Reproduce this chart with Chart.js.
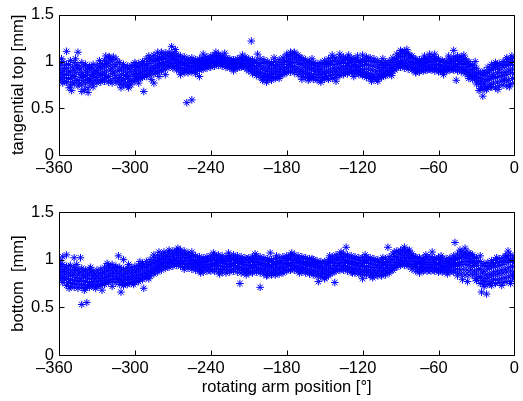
<!DOCTYPE html>
<html>
<head>
<meta charset="utf-8">
<script src="https://cdn.jsdelivr.net/npm/chart.js@4.4.1/dist/chart.umd.min.js"></script>
<style>
  html, body { margin: 0; padding: 0; background: #ffffff; }
  .box { position: absolute; left: 0; width: 523px; }
</style>
</head>
<body>
<div class="box" style="top:0;height:190px"><canvas id="c1" width="523" height="190"></canvas></div>
<div class="box" style="top:190px;height:211px"><canvas id="c2" width="523" height="211"></canvas></div>
<script>
// ---- angle positions (degrees) ----
const angles = [
 -360,-357,-354,-351,-348,-345,-342,-339,-336,-333,
 -330,-327,-324,-321,-318,-315,-312,-309,-306,-303,
 -300,-297,-294,-291,-288,-285,-282,-279,-276,-273,
 -270,-267,-264,-261,-258,-255,-252,-249,-246,-243,
 -240,-237,-234,-231,-228,-225,-222,-219,-216,-213,
 -210,-207,-204,-201,-198,-195,-192,-189,-186,-183,
 -180,-177,-174,-171,-168,-165,-162,-159,-156,-153,
 -150,-147,-144,-141,-138,-135,-132,-129,-126,-123,
 -120,-117,-114,-111,-108,-105,-102,-99,-96,-93,
 -90,-87,-84,-81,-78,-75,-72,-69,-66,-63,
 -60,-57,-54,-51,-48,-45,-42,-39,-36,-33,
 -30,-27,-24,-21,-18,-15,-12,-9,-6,-3,
 0];
const anglesB = [
 -358.5,-355.5,-352.5,-349.5,-346.5,-343.5,-340.5,-337.5,-334.5,-331.5,
 -328.5,-325.5,-322.5,-319.5,-316.5,-313.5,-310.5,-307.5,-304.5,-301.5,
 -298.5,-295.5,-292.5,-289.5,-286.5,-283.5,-280.5,-277.5,-274.5,-271.5,
 -268.5,-265.5,-262.5,-259.5,-256.5,-253.5,-250.5,-247.5,-244.5,-241.5,
 -238.5,-235.5,-232.5,-229.5,-226.5,-223.5,-220.5,-217.5,-214.5,-211.5,
 -208.5,-205.5,-202.5,-199.5,-196.5,-193.5,-190.5,-187.5,-184.5,-181.5,
 -178.5,-175.5,-172.5,-169.5,-166.5,-163.5,-160.5,-157.5,-154.5,-151.5,
 -148.5,-145.5,-142.5,-139.5,-136.5,-133.5,-130.5,-127.5,-124.5,-121.5,
 -118.5,-115.5,-112.5,-109.5,-106.5,-103.5,-100.5,-97.5,-94.5,-91.5,
 -88.5,-85.5,-82.5,-79.5,-76.5,-73.5,-70.5,-67.5,-64.5,-61.5,
 -58.5,-55.5,-52.5,-49.5,-46.5,-43.5,-40.5,-37.5,-34.5,-31.5,
 -28.5,-25.5,-22.5,-19.5,-16.5,-13.5,-10.5,-7.5,-4.5,-1.5];

// ---- tangential top [mm] ----
const topHi = [
 0.98,1.00,0.97,1.01,0.99,0.96,0.99,0.97,0.95,0.97,
 0.96,0.98,1.01,1.04,1.02,1.03,0.99,0.97,0.95,0.96,
 0.96,0.98,1.00,1.03,1.04,1.07,1.05,1.08,1.09,1.10,
 1.09,1.08,1.06,1.05,1.03,1.04,1.02,1.03,1.04,1.05,
 1.06,1.07,1.08,1.06,1.04,1.03,1.02,1.03,1.04,1.05,
 1.03,1.02,1.01,1.03,1.02,1.00,0.99,1.00,1.02,1.04,
 1.06,1.08,1.09,1.07,1.04,1.02,1.00,0.99,0.98,0.99,
 1.01,1.03,1.04,1.04,1.05,1.05,1.04,1.04,1.03,1.01,
 1.02,1.04,1.04,1.03,1.01,0.99,0.99,1.01,1.04,1.08,
 1.10,1.11,1.09,1.06,1.03,1.02,1.03,1.04,1.05,1.05,
 1.03,1.01,1.01,1.03,1.05,1.06,1.05,1.03,1.00,0.96,
 0.93,0.88,0.90,0.94,0.97,0.99,0.98,1.00,1.02,1.03,
 1.04];
const topMidHi = [
 0.92,0.90,0.93,0.89,0.91,0.93,0.88,0.90,0.92,0.89,
 0.90,0.92,0.94,0.96,0.93,0.95,0.91,0.90,0.88,0.89,
 0.90,0.92,0.94,0.96,0.98,1.00,1.01,1.02,1.03,1.05,
 1.04,1.02,1.00,0.99,0.98,0.99,0.98,0.99,1.00,1.01,
 1.02,1.03,1.04,1.03,1.00,0.99,0.98,0.99,1.00,1.01,
 0.98,0.96,0.95,0.96,0.94,0.93,0.92,0.93,0.95,0.97,
 1.00,1.02,1.03,1.01,0.98,0.96,0.94,0.93,0.92,0.92,
 0.94,0.96,0.97,0.97,0.98,0.99,0.98,0.99,0.97,0.95,
 0.96,0.97,0.96,0.95,0.94,0.93,0.94,0.96,0.99,1.03,
 1.05,1.05,1.03,1.00,0.98,0.97,0.98,0.99,1.00,1.00,
 0.97,0.96,0.96,0.98,1.00,1.01,1.00,0.98,0.95,0.91,
 0.86,0.82,0.85,0.88,0.91,0.93,0.92,0.94,0.96,0.97,
 0.96];
const topMidLo = [
 0.85,0.83,0.86,0.82,0.84,0.80,0.83,0.85,0.82,0.84,
 0.83,0.85,0.86,0.84,0.87,0.85,0.83,0.81,0.82,0.80,
 0.84,0.86,0.88,0.90,0.91,0.93,0.94,0.96,0.97,0.99,
 0.98,0.96,0.94,0.93,0.93,0.94,0.93,0.94,0.96,0.97,
 0.98,0.99,1.00,0.99,0.97,0.96,0.95,0.96,0.97,0.97,
 0.94,0.91,0.89,0.88,0.87,0.86,0.86,0.87,0.89,0.91,
 0.93,0.95,0.95,0.93,0.90,0.89,0.87,0.86,0.86,0.86,
 0.87,0.88,0.89,0.89,0.91,0.92,0.92,0.93,0.91,0.90,
 0.89,0.88,0.87,0.86,0.86,0.87,0.88,0.90,0.93,0.97,
 0.98,0.98,0.96,0.94,0.92,0.92,0.93,0.94,0.94,0.94,
 0.92,0.91,0.92,0.93,0.94,0.95,0.94,0.91,0.88,0.85,
 0.80,0.76,0.77,0.80,0.82,0.83,0.84,0.85,0.86,0.88,
 0.87];
const topLo = [
 0.79,0.77,0.78,0.75,0.76,0.74,0.75,0.77,0.78,0.76,
 0.77,0.78,0.79,0.78,0.77,0.78,0.76,0.75,0.74,0.75,
 0.79,0.81,0.83,0.84,0.86,0.87,0.88,0.90,0.92,0.94,
 0.93,0.91,0.89,0.88,0.88,0.89,0.90,0.91,0.92,0.93,
 0.94,0.95,0.96,0.95,0.94,0.93,0.92,0.93,0.94,0.94,
 0.90,0.87,0.85,0.83,0.81,0.80,0.80,0.82,0.84,0.86,
 0.88,0.89,0.88,0.86,0.84,0.83,0.82,0.81,0.80,0.80,
 0.81,0.81,0.82,0.83,0.85,0.86,0.87,0.88,0.87,0.86,
 0.85,0.83,0.82,0.81,0.81,0.83,0.85,0.87,0.90,0.93,
 0.94,0.93,0.92,0.91,0.89,0.89,0.90,0.91,0.91,0.90,
 0.89,0.89,0.90,0.91,0.91,0.90,0.89,0.87,0.84,0.81,
 0.76,0.71,0.70,0.72,0.73,0.72,0.74,0.75,0.74,0.76,
 0.77];
const topB1 = [
 0.96,0.93,0.97,0.94,0.96,0.92,0.95,0.93,0.94,0.91,
 0.94,0.96,0.98,1.00,0.97,0.99,0.94,0.93,0.92,0.94,
 0.94,0.96,0.97,1.00,1.02,1.03,1.04,1.05,1.07,1.07,
 1.06,1.05,1.03,1.02,1.01,1.01,1.00,1.01,1.02,1.03,
 1.05,1.06,1.06,1.04,1.02,1.01,1.01,1.02,1.03,1.02,
 1.00,0.99,0.98,0.99,0.98,0.96,0.96,0.97,0.99,1.01,
 1.04,1.06,1.05,1.04,1.01,0.99,0.97,0.96,0.95,0.97,
 0.98,1.00,1.01,1.00,1.02,1.02,1.01,1.02,1.00,0.99,
 1.00,1.01,1.00,0.99,0.97,0.96,0.97,0.99,1.02,1.06,
 1.08,1.08,1.06,1.03,1.00,1.00,1.01,1.02,1.03,1.02,
 1.00,0.99,0.99,1.01,1.03,1.04,1.02,1.00,0.97,0.93,
 0.89,0.86,0.88,0.91,0.94,0.96,0.96,0.97,0.99,1.00];
const topB2 = [
 0.88,0.86,0.89,0.85,0.88,0.86,0.84,0.88,0.86,0.87,
 0.87,0.88,0.90,0.91,0.89,0.90,0.86,0.85,0.84,0.86,
 0.87,0.89,0.91,0.93,0.94,0.96,0.98,0.99,1.00,1.02,
 1.01,0.99,0.97,0.96,0.95,0.96,0.96,0.97,0.98,0.99,
 1.00,1.01,1.02,1.01,0.98,0.97,0.97,0.98,0.98,0.98,
 0.96,0.93,0.92,0.92,0.90,0.89,0.89,0.90,0.92,0.94,
 0.97,0.99,0.99,0.97,0.94,0.92,0.91,0.90,0.89,0.89,
 0.90,0.92,0.93,0.93,0.95,0.95,0.95,0.96,0.94,0.92,
 0.92,0.92,0.91,0.90,0.90,0.90,0.91,0.93,0.96,1.00,
 1.01,1.01,0.99,0.97,0.95,0.95,0.96,0.96,0.97,0.97,
 0.94,0.93,0.94,0.95,0.97,0.98,0.97,0.94,0.91,0.88,
 0.83,0.79,0.81,0.84,0.86,0.88,0.88,0.89,0.91,0.92];
const topB3 = [
 0.81,0.79,0.82,0.78,0.80,0.77,0.80,0.81,0.79,0.80,
 0.80,0.81,0.83,0.80,0.82,0.80,0.79,0.77,0.78,0.79,
 0.82,0.83,0.85,0.87,0.89,0.90,0.91,0.93,0.95,0.96,
 0.95,0.93,0.91,0.91,0.90,0.91,0.92,0.92,0.94,0.95,
 0.96,0.97,0.98,0.97,0.95,0.94,0.94,0.94,0.95,0.92,
 0.92,0.89,0.87,0.85,0.84,0.83,0.83,0.84,0.86,0.88,
 0.90,0.92,0.91,0.89,0.87,0.86,0.84,0.83,0.83,0.83,
 0.84,0.85,0.86,0.86,0.88,0.89,0.89,0.90,0.89,0.88,
 0.86,0.85,0.84,0.83,0.84,0.85,0.86,0.88,0.91,0.95,
 0.96,0.95,0.94,0.92,0.90,0.91,0.91,0.92,0.92,0.92,
 0.90,0.90,0.91,0.92,0.92,0.92,0.91,0.89,0.86,0.83,
 0.78,0.73,0.73,0.76,0.77,0.78,0.79,0.80,0.80,0.82];
const topEdgeX = [-358,-352,-347,-340,-333,-328,-323,-311,-305,-300,-297,-289,-287,-276,-268,-264,-252,-246,-236,-229,-222,-215,-199,-190,-186,-180,-168,-160,-153,-144,-138,-127,-120,-108,-104,-97,-85,-78,-71,-63,-56,-52,-40,-36,-31,-28,-22,-16,-13,-6,-4];
const topEdgeY = [1.03,0.72,1.03,0.70,0.73,1.01,1.06,0.72,0.72,0.99,0.77,1.06,0.81,0.86,1.13,0.86,0.87,1.08,1.10,1.09,0.90,1.07,0.80,1.04,0.82,1.08,0.81,1.03,0.78,1.07,1.08,0.84,1.07,0.79,1.03,0.85,1.13,0.88,1.06,1.08,0.86,1.06,1.07,0.82,1.00,0.69,0.70,0.96,0.70,1.04,0.73];
const topOutX = [-354,-345,-350,-342,-337,-337,-320,-317,-293,-285,-282,-279,-281,-271,-259,-255,-249,-208,-203,-196,-177,-174,-163,-141,-131,-124,-117,-113,-90,-67,-48,-46,-25,-19,-8,-2];
const topOutY = [1.11,1.10,0.69,0.68,0.67,0.72,1.05,1.05,0.68,0.77,1.10,1.10,0.84,1.16,0.56,0.59,0.84,1.22,1.08,0.78,1.10,1.10,0.80,0.79,1.07,1.06,1.05,0.79,1.12,1.08,1.12,0.80,0.63,0.73,0.81,1.06];

// ---- bottom [mm] ----
const botHi = [
 0.96,0.95,0.93,0.94,0.92,0.90,0.91,0.89,0.90,0.88,
 0.89,0.90,0.92,0.94,0.95,0.93,0.92,0.90,0.91,0.92,
 0.93,0.94,0.96,0.98,1.00,1.02,1.04,1.05,1.06,1.08,
 1.09,1.10,1.10,1.09,1.07,1.05,1.04,1.03,1.02,1.03,
 1.04,1.05,1.05,1.04,1.03,1.04,1.05,1.04,1.03,1.02,
 1.02,1.03,1.04,1.03,1.02,1.01,1.00,1.01,1.02,1.03,
 1.04,1.05,1.05,1.04,1.03,1.02,1.01,1.00,0.99,0.98,
 0.98,1.00,1.03,1.05,1.06,1.06,1.05,1.04,1.03,1.02,
 1.02,1.03,1.02,1.01,1.00,1.00,1.01,1.03,1.06,1.09,
 1.10,1.11,1.09,1.06,1.03,1.02,1.02,1.03,1.03,1.02,
 1.02,1.01,1.01,1.02,1.04,1.06,1.08,1.08,1.07,1.05,
 1.02,0.98,0.96,0.97,0.99,1.00,1.01,1.02,1.04,1.05,
 1.04];
const botMidHi = [
 0.90,0.88,0.87,0.86,0.85,0.84,0.85,0.83,0.84,0.83,
 0.83,0.84,0.86,0.88,0.89,0.88,0.86,0.84,0.85,0.86,
 0.87,0.88,0.90,0.92,0.94,0.96,0.98,1.00,1.01,1.03,
 1.04,1.05,1.05,1.04,1.02,1.00,0.99,0.98,0.97,0.98,
 0.99,1.00,1.00,0.99,0.98,0.99,1.00,0.99,0.98,0.97,
 0.97,0.98,0.98,0.97,0.96,0.95,0.94,0.95,0.96,0.97,
 0.99,1.00,1.00,0.99,0.98,0.97,0.96,0.95,0.94,0.93,
 0.92,0.94,0.97,0.99,1.00,1.00,0.99,0.98,0.97,0.96,
 0.96,0.97,0.96,0.95,0.94,0.94,0.95,0.97,1.00,1.03,
 1.05,1.05,1.04,1.01,0.98,0.97,0.97,0.97,0.97,0.97,
 0.96,0.96,0.96,0.97,0.99,1.01,1.02,1.02,1.01,0.99,
 0.94,0.90,0.88,0.90,0.92,0.93,0.94,0.95,0.97,0.98,
 0.97];
const botMidLo = [
 0.84,0.82,0.80,0.79,0.78,0.77,0.78,0.77,0.76,0.77,
 0.77,0.78,0.80,0.82,0.83,0.82,0.80,0.78,0.79,0.80,
 0.81,0.82,0.84,0.86,0.88,0.90,0.92,0.94,0.96,0.97,
 0.98,0.99,0.99,0.98,0.96,0.95,0.94,0.93,0.92,0.93,
 0.93,0.94,0.94,0.93,0.92,0.93,0.94,0.93,0.92,0.91,
 0.91,0.92,0.92,0.91,0.90,0.89,0.88,0.89,0.90,0.91,
 0.93,0.94,0.94,0.93,0.92,0.91,0.90,0.89,0.88,0.87,
 0.86,0.88,0.91,0.93,0.94,0.94,0.93,0.92,0.91,0.90,
 0.89,0.90,0.89,0.88,0.88,0.88,0.89,0.91,0.94,0.97,
 0.99,0.99,0.98,0.95,0.93,0.92,0.92,0.92,0.92,0.92,
 0.91,0.91,0.91,0.92,0.93,0.94,0.95,0.95,0.94,0.93,
 0.85,0.82,0.80,0.81,0.83,0.84,0.85,0.86,0.87,0.88,
 0.88];
const botLo = [
 0.78,0.76,0.73,0.72,0.71,0.70,0.71,0.70,0.71,0.72,
 0.72,0.73,0.74,0.76,0.77,0.76,0.74,0.73,0.74,0.75,
 0.76,0.77,0.79,0.81,0.83,0.85,0.87,0.89,0.91,0.92,
 0.93,0.94,0.93,0.92,0.91,0.90,0.89,0.88,0.87,0.88,
 0.88,0.88,0.87,0.87,0.86,0.87,0.88,0.87,0.86,0.86,
 0.86,0.86,0.87,0.86,0.85,0.84,0.84,0.84,0.85,0.86,
 0.88,0.89,0.89,0.88,0.87,0.86,0.85,0.84,0.83,0.82,
 0.81,0.83,0.86,0.88,0.89,0.89,0.88,0.87,0.86,0.85,
 0.84,0.84,0.83,0.83,0.83,0.83,0.84,0.86,0.89,0.92,
 0.94,0.94,0.93,0.90,0.88,0.88,0.88,0.88,0.88,0.88,
 0.87,0.87,0.87,0.87,0.87,0.86,0.85,0.84,0.84,0.84,
 0.78,0.75,0.74,0.74,0.75,0.75,0.76,0.76,0.77,0.77,
 0.80];
const botB1 = [
 0.93,0.91,0.90,0.89,0.89,0.87,0.88,0.86,0.87,0.85,
 0.86,0.87,0.89,0.91,0.92,0.91,0.89,0.87,0.88,0.89,
 0.90,0.92,0.93,0.95,0.97,0.99,1.01,1.03,1.04,1.06,
 1.07,1.08,1.07,1.06,1.04,1.03,1.02,1.00,1.00,1.01,
 1.02,1.03,1.02,1.01,1.01,1.02,1.02,1.01,1.00,1.00,
 1.00,1.01,1.01,1.00,0.99,0.98,0.97,0.98,0.99,1.01,
 1.02,1.03,1.02,1.01,1.01,1.00,0.98,0.97,0.96,0.96,
 0.96,0.98,1.01,1.02,1.03,1.03,1.02,1.01,1.00,0.99,
 0.99,1.00,0.99,0.98,0.97,0.97,0.98,1.00,1.03,1.07,
 1.08,1.08,1.06,1.03,1.01,0.99,1.00,1.00,1.00,1.00,
 0.99,0.98,0.99,1.00,1.01,1.03,1.05,1.05,1.04,1.02,
 0.98,0.94,0.93,0.94,0.96,0.97,0.98,0.99,1.01,1.01];
const botB2 = [
 0.87,0.85,0.83,0.83,0.81,0.80,0.82,0.80,0.80,0.80,
 0.80,0.81,0.83,0.85,0.86,0.85,0.83,0.81,0.82,0.83,
 0.84,0.85,0.87,0.89,0.91,0.93,0.95,0.97,0.99,1.00,
 1.01,1.02,1.02,1.01,0.99,0.97,0.96,0.95,0.95,0.95,
 0.96,0.97,0.97,0.96,0.95,0.96,0.97,0.96,0.95,0.94,
 0.94,0.95,0.95,0.94,0.93,0.92,0.91,0.92,0.93,0.95,
 0.96,0.97,0.97,0.96,0.95,0.94,0.93,0.92,0.91,0.90,
 0.89,0.91,0.94,0.96,0.97,0.97,0.96,0.95,0.94,0.93,
 0.93,0.93,0.92,0.92,0.91,0.91,0.92,0.94,0.97,1.00,
 1.02,1.02,1.01,0.98,0.96,0.95,0.95,0.95,0.95,0.95,
 0.94,0.93,0.94,0.95,0.96,0.97,0.98,0.98,0.97,0.96,
 0.90,0.86,0.84,0.85,0.87,0.88,0.89,0.90,0.92,0.93];
const botB3 = [
 0.81,0.79,0.76,0.75,0.74,0.74,0.74,0.73,0.74,0.74,
 0.74,0.75,0.77,0.79,0.80,0.79,0.77,0.75,0.76,0.77,
 0.78,0.80,0.82,0.84,0.86,0.88,0.90,0.92,0.93,0.95,
 0.96,0.96,0.96,0.95,0.93,0.92,0.91,0.90,0.90,0.90,
 0.90,0.91,0.90,0.90,0.89,0.90,0.91,0.90,0.89,0.88,
 0.88,0.89,0.89,0.88,0.87,0.86,0.86,0.86,0.87,0.89,
 0.90,0.91,0.91,0.90,0.89,0.88,0.87,0.86,0.85,0.85,
 0.84,0.86,0.88,0.90,0.91,0.91,0.90,0.89,0.88,0.87,
 0.87,0.87,0.86,0.85,0.85,0.86,0.87,0.89,0.92,0.95,
 0.96,0.96,0.95,0.93,0.90,0.90,0.90,0.90,0.90,0.90,
 0.89,0.89,0.89,0.89,0.90,0.90,0.90,0.89,0.89,0.88,
 0.81,0.78,0.77,0.77,0.79,0.79,0.80,0.81,0.82,0.83];
const botEdgeX = [-359,-352,-346,-340,-335,-331,-322,-318,-305,-301,-296,-289,-285,-273,-266,-261,-255,-248,-238,-233,-226,-212,-205,-196,-188,-176,-170,-160,-150,-146,-137,-128,-118,-112,-104,-95,-83,-75,-70,-58,-53,-45,-35,-31,-24,-18,-14,-10,-7,-1];
const botEdgeY = [0.99,0.70,0.95,0.68,0.92,0.70,0.96,0.72,0.95,0.74,0.98,0.80,1.05,1.10,1.12,0.90,1.08,0.86,1.07,0.85,1.07,0.84,1.06,0.83,1.04,1.07,0.86,1.01,0.80,1.04,1.08,0.86,1.05,0.81,1.02,1.08,1.10,0.86,1.05,1.04,0.85,0.83,1.06,0.80,0.72,0.73,1.02,0.73,1.04,0.84];
const botOutX = [-357,-354,-348,-343,-342,-338,-326,-313,-311,-309,-293,-281,-277,-217,-201,-193,-155,-142,-133,-120,-100,-87,-65,-47,-43,-39,-41,-37,-27,-26,-22,-5,-3];
const botOutY = [1.03,1.05,1.02,1.02,0.53,0.55,0.68,1.04,0.66,1.00,0.70,1.08,1.08,0.75,0.71,1.07,0.77,0.76,1.13,0.80,1.13,1.13,1.08,1.18,1.10,1.12,0.79,0.77,1.04,0.66,0.64,1.09,0.75];

// ---- axis ticks / labels ----
const xTicks = [-360,-300,-240,-180,-120,-60,0];
const yTicks = [0,0.5,1,1.5];
const topTitle = 'tangential top [mm]';
const botTitle = 'bottom  [mm]';
const xTitle = 'rotating arm position [\u00b0]';

const FONT = "'Liberation Sans', Arial, Helvetica, sans-serif";
const BLUE = '#0000ff';

function pts(xs, ys) { return xs.map((x, i) => ({ x: x, y: ys[i] })); }

const matlabBox = {
  id: 'matlabBox',
  afterDatasetsDraw(chart) {
    const ctx = chart.ctx, a = chart.chartArea;
    const xs = chart.scales.x, ys = chart.scales.y;
    const L = Math.round(a.left) + 0.5, R = Math.round(a.right) + 0.5;
    const T = Math.round(a.top) + 0.5, B = Math.round(a.bottom) + 0.5;
    ctx.save();
    ctx.strokeStyle = '#000000';
    ctx.lineWidth = 1;
    ctx.beginPath();
    ctx.rect(L, T, R - L, B - T);
    const tl = 5;
    xTicks.forEach(v => {
      const px = Math.round(xs.getPixelForValue(v)) + 0.5;
      ctx.moveTo(px, B); ctx.lineTo(px, B - tl);
      ctx.moveTo(px, T); ctx.lineTo(px, T + tl);
    });
    yTicks.forEach(v => {
      const py = Math.round(ys.getPixelForValue(v)) + 0.5;
      ctx.moveTo(L, py); ctx.lineTo(L + tl, py);
      ctx.moveTo(R, py); ctx.lineTo(R - tl, py);
    });
    ctx.stroke();
    ctx.restore();
  }
};

function ds(xs, ys) {
  return {
    data: pts(xs, ys),
    showLine: false,
    pointStyle: 'star',
    pointRadius: 3.8,
    pointBorderColor: BLUE,
    pointBackgroundColor: BLUE,
    pointBorderWidth: 1
  };
}

function makeChart(id, rowsA, rowsB, edgeX, edgeY, outX, outY, yTitle, showXTitle, padTop, xHeight) {
  const datasets = rowsA.map(r => ds(angles, r)).concat(rowsB.map(r => ds(anglesB, r)));
  datasets.push(ds(edgeX, edgeY));
  datasets.push(ds(outX, outY));
  return new Chart(document.getElementById(id), {
    type: 'scatter',
    data: { datasets: datasets },
    options: {
      responsive: false,
      animation: false,
      devicePixelRatio: 1,
      layout: { padding: { top: padTop, right: 7, left: 0, bottom: 0 } },
      plugins: { legend: { display: false }, tooltip: { enabled: false } },
      scales: {
        x: {
          type: 'linear', min: -360, max: 0,
          afterFit: s => { s.height = xHeight; },
          afterBuildTicks: s => { s.ticks = xTicks.map(v => ({ value: v })); },
          grid: { display: false, drawTicks: false },
          border: { display: false },
          ticks: {
            autoSkip: false, maxRotation: 0, padding: 4,
            color: '#000', font: { family: FONT, size: 16.5 },
            callback: v => v < 0 ? '\u2013' + Math.abs(v) + '  ' : String(v)
          },
          title: {
            display: showXTitle, text: xTitle, color: '#000',
            font: { family: FONT, size: 16.5 }, padding: { top: 0, bottom: 4 }
          }
        },
        y: {
          type: 'linear', min: 0, max: 1.5,
          afterFit: s => { s.width = 59; },
          afterBuildTicks: s => { s.ticks = yTicks.map(v => ({ value: v })); },
          grid: { display: false, drawTicks: false },
          border: { display: false },
          ticks: {
            padding: 5, color: '#000', font: { family: FONT, size: 16.5 },
            callback: v => String(v)
          },
          title: {
            display: true, text: yTitle, color: '#000',
            font: { family: FONT, size: 16.5 }, padding: { top: 9, bottom: 0 }
          }
        }
      }
    },
    plugins: [matlabBox]
  });
}

makeChart('c1', [topHi, topMidHi, topMidLo, topLo], [topB1, topB2, topB3], topEdgeX, topEdgeY, topOutX, topOutY, topTitle, false, 12, 35);
makeChart('c2', [botHi, botMidHi, botMidLo, botLo], [botB1, botB2, botB3], botEdgeX, botEdgeY, botOutX, botOutY, botTitle, true, 22, 46);
</script>
</body>
</html>
